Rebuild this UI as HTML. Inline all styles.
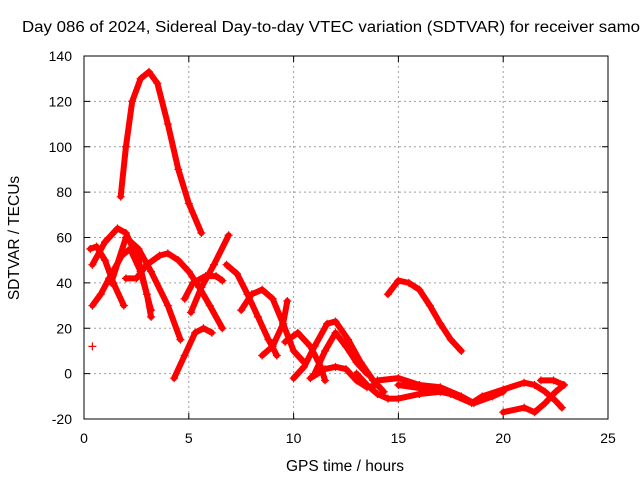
<!DOCTYPE html>
<html><head><meta charset="utf-8"><style>
body{margin:0;background:#fff;}
svg{display:block;font-family:"Liberation Sans",Arial,sans-serif;}
</style></head><body>
<svg id="chart" width="640" height="480" xmlns="http://www.w3.org/2000/svg">
<rect width="640" height="480" fill="#fff"/>
<text x="22" y="32" font-size="15.5" textLength="618" lengthAdjust="spacingAndGlyphs">Day 086 of 2024, Sidereal Day-to-day VTEC variation (SDTVAR) for receiver samo</text>
<g id="grid"></g>
<g id="axes"></g>
<g id="series"></g>
<rect x="84" y="56" width="524" height="363" fill="none" stroke="#000" stroke-width="1"/>
<text x="345" y="471" font-size="15.5" text-anchor="middle">GPS time / hours</text>
<text x="0" y="0" font-size="15.5" text-anchor="middle" transform="translate(19,238) rotate(-90)">SDTVAR / TECUs</text>
</svg>
<script>
const xTicks = [0,5,10,15,20,25];
const yTicks = [-20,0,20,40,60,80,100,120,140];
const tracks = [
 [[1.75,78],[2.0,100],[2.3,120],[2.7,130],[3.1,133],[3.5,128],[4.0,110],[4.5,90],[5.0,75],[5.6,62]],
 [[0.4,48],[1.0,58],[1.6,64],[2.0,62],[2.6,50],[3.0,35],[3.2,25]],
 [[0.4,30],[0.8,35],[1.2,42],[1.8,52],[2.2,55],[2.7,45],[3.2,28]],
 [[0.3,55],[0.6,56],[1.0,50],[1.4,40],[1.9,30]],
 [[2.0,42],[2.5,42],[3.0,48],[3.6,52],[4.0,53],[4.5,50],[5.0,45],[5.5,38],[6.0,30],[6.6,20]],
 [[1.3,40],[2.0,60],[2.6,55],[3.2,45],[4.0,30],[4.6,15]],
 [[4.3,-2],[4.8,8],[5.3,18],[5.7,20],[6.1,18]],
 [[4.8,33],[5.2,40],[5.8,43],[6.3,43],[6.6,41]],
 [[5.1,27],[5.6,38],[6.2,48],[6.9,61]],
 [[6.8,48],[7.3,44],[7.8,35],[8.3,25],[8.8,15],[9.2,8]],
 [[7.5,28],[8.0,35],[8.5,37],[9.0,33],[9.5,22],[10.0,10],[10.5,5]],
 [[8.5,8],[9.0,12],[9.5,22],[9.7,32]],
 [[9.6,14],[10.2,18],[10.8,12],[11.3,3],[11.5,-3]],
 [[10.0,-2],[10.5,3],[11.0,12],[11.6,22],[12.0,23],[12.6,15],[13.2,5],[13.8,-3],[14.3,-8]],
 [[10.8,-2],[11.5,2],[12.0,3],[12.5,2],[13.0,-3],[13.5,-6],[14.0,-5]],
 [[11.0,0],[11.5,10],[12.0,18],[12.5,12],[13.0,5],[13.5,0]],
 [[14.5,35],[15.0,41],[15.5,40],[16.0,37],[16.5,30],[17.0,22],[17.5,15],[18.0,10]],
 [[13.0,0],[13.5,-5],[14.0,-9],[14.5,-11],[15.0,-11],[16.0,-9],[17.0,-8]],
 [[14.0,-3],[15.0,-2],[16.0,-5],[17.0,-6],[18.0,-10],[18.6,-13],[19.5,-10],[20.0,-8]],
 [[15.0,-5],[16.5,-7],[17.5,-9],[18.5,-13],[19.0,-10],[20.0,-7],[21.0,-4],[21.5,-5],[22.0,-8],[22.5,-12],[22.8,-15]],
 [[20.0,-17],[21.0,-15],[21.5,-17],[22.0,-13],[22.5,-8],[22.9,-5]],
 [[21.8,-3],[22.4,-3],[22.9,-5]],
 [[0.4,12]]
];
const NS="http://www.w3.org/2000/svg";
const X0=84,X1=608,Y0=419,Y1=56;
const sx=v=>X0+(v-0)/(25-0)*(X1-X0);
const sy=v=>Y0-(v+20)/(160)*(Y0-Y1);
function mk(tag,attrs,parent){const e=document.createElementNS(NS,tag);for(const k in attrs)e.setAttribute(k,attrs[k]);parent.appendChild(e);return e;}
const grid=document.getElementById('grid'),axes=document.getElementById('axes'),ser=document.getElementById('series');
xTicks.forEach(t=>{const x=sx(t);
 if(t>0&&t<25){const l=mk('line',{x1:x,x2:x,y1:Y1,y2:Y0,stroke:'#a0a0a0','stroke-dasharray':'2,3'},grid);
 }
 const tk=mk('line',{x1:x,x2:x,y1:Y0,y2:Y0-6,stroke:'#000'},axes);
 
 const tk2=mk('line',{x1:x,x2:x,y1:Y1,y2:Y1+6,stroke:'#000'},axes);
 
 const tx=mk('text',{x:x,y:443,'font-size':14,'text-anchor':'middle'},axes);tx.textContent=t;
 });
yTicks.forEach(t=>{const y=sy(t);
 if(t>-20&&t<140){const l=mk('line',{x1:X0,x2:X1,y1:y,y2:y,stroke:'#a0a0a0','stroke-dasharray':'2,3'},grid);
 }
 const tk=mk('line',{x1:X0,x2:X0+6,y1:y,y2:y,stroke:'#000'},axes);
 
 const tk2=mk('line',{x1:X1,x2:X1-6,y1:y,y2:y,stroke:'#000'},axes);
 
 const tx=mk('text',{x:72,y:y+5,'font-size':14,'text-anchor':'end'},axes);tx.textContent=t;
 });
tracks.forEach(tr=>{
 if(tr.length>1){const p=mk('polyline',{points:tr.map(d=>sx(d[0])+','+sy(d[1])).join(' '),fill:'none',stroke:'#f00','stroke-width':6,'stroke-linejoin':'round','stroke-linecap':'round'},ser);
 }
 tr.forEach(d=>{const x=sx(d[0]),y=sy(d[1]);
  const m=mk('path',{d:`M${x-4},${y}H${x+4}M${x},${y-4}V${y+4}`,stroke:'#f00','stroke-width':1.2},ser);
  });
});
</script>
</body></html>
